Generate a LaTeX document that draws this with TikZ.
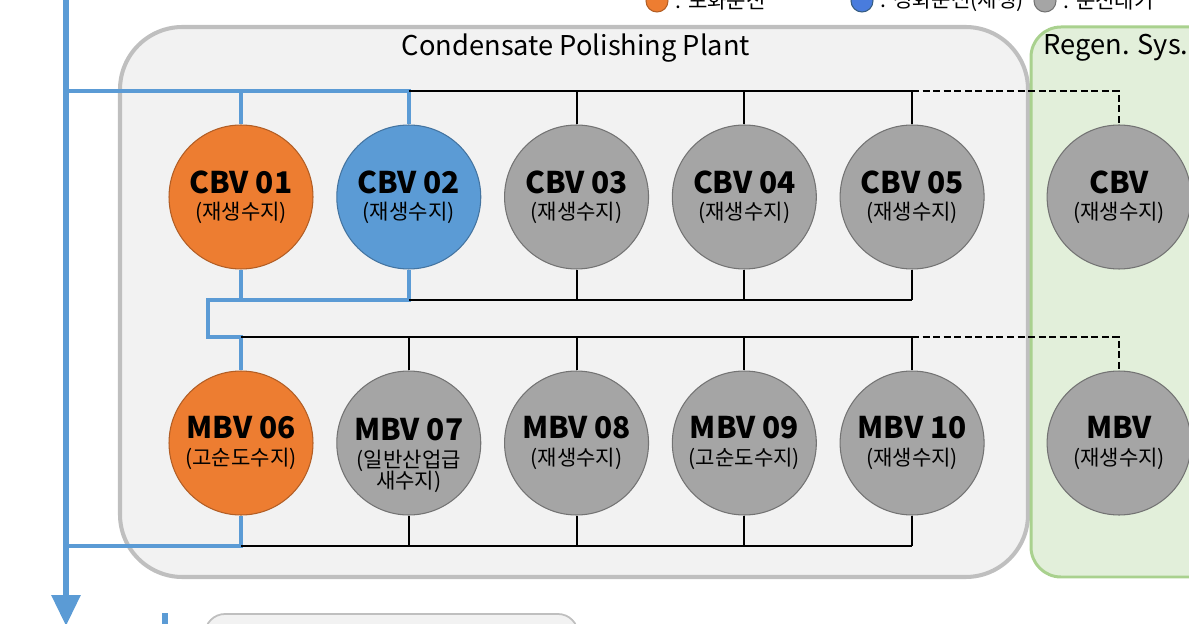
\documentclass[tikz,border=0pt]{standalone}
\usepackage{fontspec}
\setmainfont{Noto Sans CJK KR}
\usepackage{xcolor}
\usepackage{tikz}
\usetikzlibrary{positioning,arrows.meta}

\definecolor{flowblue}{HTML}{5B9BD5}
\definecolor{runorange}{HTML}{ED7D31}
\definecolor{idlegray}{HTML}{A5A5A5}
\definecolor{plantbg}{HTML}{F2F2F2}
\definecolor{plantline}{HTML}{BFBFBF}
\definecolor{regenbg}{HTML}{E2EFDA}
\definecolor{regenline}{HTML}{A9D18E}

\begin{document}
\begin{tikzpicture}[
x=0.02cm,
y=-0.02cm,
>=Latex,
valve/.style={
circle,
draw=idlegray!70!black,
fill=idlegray,
line width=0.6pt,
minimum size=2.88cm,
inner sep=0pt,
align=center,
font=\fontsize{12}{15}\selectfont
},
runvalve/.style={
valve,
draw=runorange!75!black,
fill=runorange
},
regvalve/.style={
valve,
draw=flowblue!75!black,
fill=flowblue
},
bus/.style={
line width=1.15pt
},
standby/.style={
bus,
dash pattern=on 4pt off 2pt
},
flow/.style={
draw=flowblue,
line width=2pt
},
trunk/.style={
draw=flowblue,
line width=3.4pt
},
plant/.style={
draw=plantline,
fill=plantbg,
line width=2.3pt,
rounded corners=1.25cm
},
regen/.style={
draw=regenline,
fill=regenbg,
line width=1.7pt,
rounded corners=0.6cm
},
boxtitle/.style={
font=\fontsize{15.5}{18}\selectfont
},
keydot/.style={
circle,
minimum size=0.44cm,
inner sep=0pt,
line width=0.6pt
},
keytext/.style={
font=\fontsize{12}{14}\selectfont,
inner sep=0pt,
anchor=west
}
]

\clip (0,0) rectangle (1189,624);

%%%%%%%%%%%%%%%%%%%%%%%%%%%%%%%%%%%%
% Boxes
%%%%%%%%%%%%%%%%%%%%%%%%%%%%%%%%%%%%

\draw[plant] (120,27) rectangle (1028,577);
\draw[regen] (1031,27) rectangle (1260,577);
\draw[plant,line width=1pt,rounded corners=0.4cm] (205,614) rectangle (578,700);

\node[boxtitle] (cpptitle) at (576,48) {Condensate Polishing Plant};
\node[boxtitle] (regentitle) at (1116,48) {Regen. Sys.};

%%%%%%%%%%%%%%%%%%%%%%%%%%%%%%%%%%%%
% Legend
%%%%%%%%%%%%%%%%%%%%%%%%%%%%%%%%%%%%

\node[keydot,fill=runorange,draw=runorange!75!black] (keyrun) at (657,1) {};
\node[keytext,right=4pt of keyrun] (keyruntext) {: 포화운전};

\node[keydot,fill=flowblue!80!blue,draw=flowblue!60!black] (keyreg) at (862,1) {};
\node[keytext,right=4pt of keyreg] (keyregtext) {: 정화운전(재생)};

\node[keydot,fill=idlegray,draw=idlegray!70!black] (keyidle) at (1045,1) {};
\node[keytext,right=4pt of keyidle] (keyidletext) {: 운전대기};

%%%%%%%%%%%%%%%%%%%%%%%%%%%%%%%%%%%%
% Vessels
%%%%%%%%%%%%%%%%%%%%%%%%%%%%%%%%%%%%

\node[runvalve] (cbv01) at (241,197)
{{\fontsize{17}{20}\selectfont\bfseries CBV 01}\\(재생수지)};

\node[regvalve,right=0.455cm of cbv01] (cbv02)
{{\fontsize{17}{20}\selectfont\bfseries CBV 02}\\(재생수지)};

\node[valve,right=0.455cm of cbv02] (cbv03)
{{\fontsize{17}{20}\selectfont\bfseries CBV 03}\\(재생수지)};

\node[valve,right=0.455cm of cbv03] (cbv04)
{{\fontsize{17}{20}\selectfont\bfseries CBV 04}\\(재생수지)};

\node[valve,right=0.455cm of cbv04] (cbv05)
{{\fontsize{17}{20}\selectfont\bfseries CBV 05}\\(재생수지)};

\node[valve,right=1.24cm of cbv05] (cbvr)
{{\fontsize{17}{20}\selectfont\bfseries CBV}\\(재생수지)};

\node[runvalve,below=2.02cm of cbv01] (mbv06)
{{\fontsize{17}{20}\selectfont\bfseries MBV 06}\\(고순도수지)};

\node[valve,right=0.455cm of mbv06] (mbv07)
{{\fontsize{17}{20}\selectfont\bfseries MBV 07}\\
\smash{\begin{tabular}[t]{@{}c@{}}(일반산업급\\[-3pt]새수지)\end{tabular}}};

\node[valve,right=0.455cm of mbv07] (mbv08)
{{\fontsize{17}{20}\selectfont\bfseries MBV 08}\\(재생수지)};

\node[valve,right=0.455cm of mbv08] (mbv09)
{{\fontsize{17}{20}\selectfont\bfseries MBV 09}\\(고순도수지)};

\node[valve,right=0.455cm of mbv09] (mbv10)
{{\fontsize{17}{20}\selectfont\bfseries MBV 10}\\(재생수지)};

\node[valve,right=1.24cm of mbv10] (mbvr)
{{\fontsize{17}{20}\selectfont\bfseries MBV}\\(재생수지)};

%%%%%%%%%%%%%%%%%%%%%%%%%%%%%%%%%%%%
% Headers
%%%%%%%%%%%%%%%%%%%%%%%%%%%%%%%%%%%%

\coordinate (topbus) at (0,91);
\coordinate (midbus) at (0,300);
\coordinate (jog) at (208,337);
\coordinate (lowbus) at (0,337);
\coordinate (botbus) at (0,546);

\coordinate (trunktop) at (66,-10);
\coordinate (trunkend) at (66,626);
\coordinate (feedtop) at (165,613);
\coordinate (feedend) at (165,640);

\draw[trunk,-{Triangle[width=0.56cm,length=0.62cm]}] (trunktop)--(trunkend);
\draw[trunk] (feedtop)--(feedend);

% CBV inlet
\draw[flow] (trunktop |- topbus)--(cbv02.north |- topbus)--(cbv02.north);
\draw[flow] (cbv01.north)--(cbv01.north |- topbus);
\draw[bus] (cbv02.north |- topbus)--(cbv05.north |- topbus);
\foreach \v in {cbv03,cbv04,cbv05}
\draw[bus] (\v.north)--(\v.north |- topbus);
\draw[standby] (cbv05.north |- topbus)-|(cbvr.north);

% CBV outlet
\draw[flow] (cbv01.south)--(cbv01.south |- midbus);
\draw[flow] (cbv02.south)|-(jog |- midbus)--(jog)-|(mbv06.north);
\draw[bus] (cbv02.south |- midbus)--(cbv05.south |- midbus);
\foreach \v in {cbv03,cbv04,cbv05}
\draw[bus] (\v.south)--(\v.south |- midbus);

% MBV inlet
\draw[bus] (mbv06.north |- lowbus)--(mbv10.north |- lowbus);
\foreach \v in {mbv07,mbv08,mbv09,mbv10}
\draw[bus] (\v.north)--(\v.north |- lowbus);
\draw[standby] (mbv10.north |- lowbus)-|(mbvr.north);

% MBV outlet
\draw[flow] (mbv06.south)|-(trunktop |- botbus);
\draw[bus] (mbv06.south |- botbus)--(mbv10.south |- botbus);
\foreach \v in {mbv07,mbv08,mbv09,mbv10}
\draw[bus] (\v.south)--(\v.south |- botbus);

\end{tikzpicture}
\end{document}
